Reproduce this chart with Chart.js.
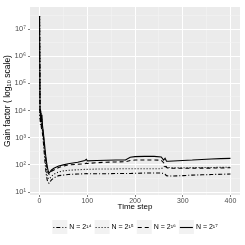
<!DOCTYPE html>
<html>
<head>
<meta charset="utf-8">
<script src="https://cdn.jsdelivr.net/npm/chart.js@4/dist/chart.umd.min.js"></script>
<style>
  html, body { margin: 0; padding: 0; background: #fff; }
  canvas { display: block; }
</style>
</head>
<body>
<canvas id="chart" width="245" height="245"></canvas>
<script>
var timeSteps = [0, 1, 2, 3, 4, 5, 6, 8, 10, 12, 14, 16, 18, 20, 22, 25, 30, 40, 50, 60, 80, 95, 98, 100, 120, 140, 160, 180, 190, 200, 220, 240, 255, 260, 263, 266, 270, 280, 300, 320, 340, 360, 380, 400];

var gainN14 = [3e7, 5000, 3000, 5000, 2000, 3000, 1500, 700, 250, 100, 45, 28, 22, 21, 24, 28, 33, 40, 42, 44, 46, 47, 48, 47, 47, 47, 48, 48, 48, 49, 50, 50, 50, 48, 45, 40, 39, 39, 40, 42, 43, 44, 45, 46];
var gainN15 = [3e7, 6000, 4000, 6000, 2500, 4000, 2000, 900, 350, 150, 70, 40, 32, 30, 32, 38, 45, 55, 60, 63, 66, 68, 70, 68, 70, 70, 71, 72, 72, 72, 72, 72, 72, 80, 95, 85, 80, 78, 78, 79, 80, 80, 81, 82];
var gainN16 = [3e7, 8000, 5000, 8000, 3500, 5000, 2500, 1200, 500, 250, 120, 70, 50, 45, 50, 58, 65, 80, 90, 100, 105, 110, 115, 112, 120, 125, 128, 130, 145, 150, 150, 150, 148, 120, 90, 80, 76, 75, 75, 75, 76, 76, 77, 78];
var gainN17 = [3e7, 9000, 6000, 10000, 4000, 7000, 3000, 1500, 700, 300, 150, 90, 60, 50, 55, 65, 75, 90, 100, 110, 125, 145, 160, 140, 145, 148, 150, 150, 190, 200, 205, 205, 195, 150, 175, 135, 135, 138, 145, 150, 158, 165, 170, 173];

var seriesLabels = ["N = 2\u00B9\u2074", "N = 2\u00B9\u2075", "N = 2\u00B9\u2076", "N = 2\u00B9\u2077"];
var seriesDash = [[1, 2, 4, 2], [1, 2], [4, 3], []];

var xMajor = [0, 100, 200, 300, 400];
var xMinor = [50, 150, 250, 350];
var yMajorPowers = [1, 2, 3, 4, 5, 6, 7];
var yMinorPowers = [1.5, 2.5, 3.5, 4.5, 5.5, 6.5, 7.5];

var supDigits = { "0": "\u2070", "1": "\u00B9", "2": "\u00B2", "3": "\u00B3", "4": "\u2074", "5": "\u2075", "6": "\u2076", "7": "\u2077", "8": "\u2078", "9": "\u2079" };

function pts(vals) {
  return timeSteps.map(function (t, i) { return { x: t, y: vals[i] }; });
}

function isMajorLog(v) {
  var l = Math.log10(v);
  return Math.abs(l - Math.round(l)) < 1e-6;
}

var panelBg = {
  id: "panelBg",
  beforeDraw: function (chart) {
    var a = chart.chartArea, ctx = chart.ctx;
    ctx.save();
    ctx.fillStyle = "#EBEBEB";
    ctx.fillRect(a.left, a.top, a.right - a.left, a.bottom - a.top);
    ctx.restore();
  }
};

// ggplot style legend below the plot
var bottomLegend = {
  id: "bottomLegend",
  afterDraw: function (chart) {
    var ctx = chart.ctx;
    var a = chart.chartArea;
    var keyW = 15, keyH = 14, gap = 2, itemGap = 3;
    ctx.save();
    ctx.font = "7px 'Liberation Sans', Arial, sans-serif";
    var widths = seriesLabels.map(function (s) { return ctx.measureText(s).width; });
    var total = 0;
    widths.forEach(function (w) { total += keyW + gap + w + itemGap; });
    total -= itemGap;
    var x = (a.left + a.right) / 2 - total / 2;
    var cy = 227;
    seriesLabels.forEach(function (s, i) {
      ctx.fillStyle = "#F2F2F2";
      ctx.fillRect(x, cy - keyH / 2, keyW, keyH);
      ctx.strokeStyle = "#000";
      ctx.lineWidth = 1.1;
      ctx.setLineDash(seriesDash[i]);
      ctx.beginPath();
      ctx.moveTo(x + 1, cy + 0.5);
      ctx.lineTo(x + keyW - 1, cy + 0.5);
      ctx.stroke();
      ctx.setLineDash([]);
      ctx.fillStyle = "#000";
      ctx.textBaseline = "middle";
      ctx.textAlign = "left";
      ctx.fillText(s, x + keyW + gap, cy);
      x += keyW + gap + widths[i] + itemGap;
    });
    ctx.restore();
  }
};

var allData = [gainN14, gainN15, gainN16, gainN17];

new Chart("chart", {
  type: "line",
  data: {
    datasets: allData.map(function (vals, i) {
      return {
        label: seriesLabels[i],
        data: pts(vals),
        borderColor: "#000",
        borderWidth: 1.1,
        borderDash: seriesDash[i],
        pointRadius: 0,
        tension: 0,
        fill: false
      };
    })
  },
  options: {
    responsive: false,
    animation: false,
    layout: { padding: { left: 3, right: 5, top: 7, bottom: 33 } },
    plugins: { legend: { display: false }, tooltip: { enabled: false } },
    scales: {
      x: {
        type: "linear",
        min: -20,
        max: 420,
        afterBuildTicks: function (s) {
          s.ticks = xMajor.concat(xMinor).map(function (v) { return { value: v }; });
        },
        afterFit: function (s) { s.height = 17; },
        ticks: {
          autoSkip: false,
          maxRotation: 0,
          padding: 0,
          color: "#4D4D4D",
          font: { family: "'Liberation Sans', Arial, sans-serif", size: 7 },
          callback: function (v) { return xMajor.indexOf(v) >= 0 ? String(v) : ""; }
        },
        grid: {
          color: function (c) { return xMajor.indexOf(c.tick.value) >= 0 ? "#FFFFFF" : "#F5F5F5"; },
          lineWidth: function (c) { return xMajor.indexOf(c.tick.value) >= 0 ? 1 : 0.5; },
          tickColor: function (c) { return xMajor.indexOf(c.tick.value) >= 0 ? "#7F7F7F" : "rgba(0,0,0,0)"; },
          tickLength: 2
        },
        border: { display: false },
        title: {
          display: true,
          text: "Time step",
          color: "#000",
          padding: 0,
          font: { family: "'Liberation Sans', Arial, sans-serif", size: 8 }
        }
      },
      y: {
        type: "logarithmic",
        min: Math.pow(10, 0.89),
        max: Math.pow(10, 7.81),
        afterBuildTicks: function (s) {
          s.ticks = yMajorPowers.concat(yMinorPowers).map(function (p) { return { value: Math.pow(10, p) }; });
        },
        afterFit: function (s) { s.width = 27; },
        ticks: {
          autoSkip: false,
          padding: 2,
          color: "#4D4D4D",
          font: { family: "'Liberation Sans', Arial, sans-serif", size: 7.5 },
          callback: function (v) {
            if (!isMajorLog(v)) return "";
            var k = String(Math.round(Math.log10(v)));
            return "10" + k.split("").map(function (d) { return supDigits[d]; }).join("");
          }
        },
        grid: {
          color: function (c) { return isMajorLog(c.tick.value) ? "#FFFFFF" : "#F5F5F5"; },
          lineWidth: function (c) { return isMajorLog(c.tick.value) ? 1 : 0.5; },
          tickColor: function (c) { return isMajorLog(c.tick.value) ? "#7F7F7F" : "rgba(0,0,0,0)"; },
          tickLength: 2
        },
        border: { display: false },
        title: {
          display: true,
          text: "Gain factor ( log\u2081\u2080 scale)",
          color: "#000",
          padding: 0,
          font: { family: "'Liberation Sans', Arial, sans-serif", size: 8.5 }
        }
      }
    }
  },
  plugins: [panelBg, bottomLegend]
});
</script>
</body>
</html>
